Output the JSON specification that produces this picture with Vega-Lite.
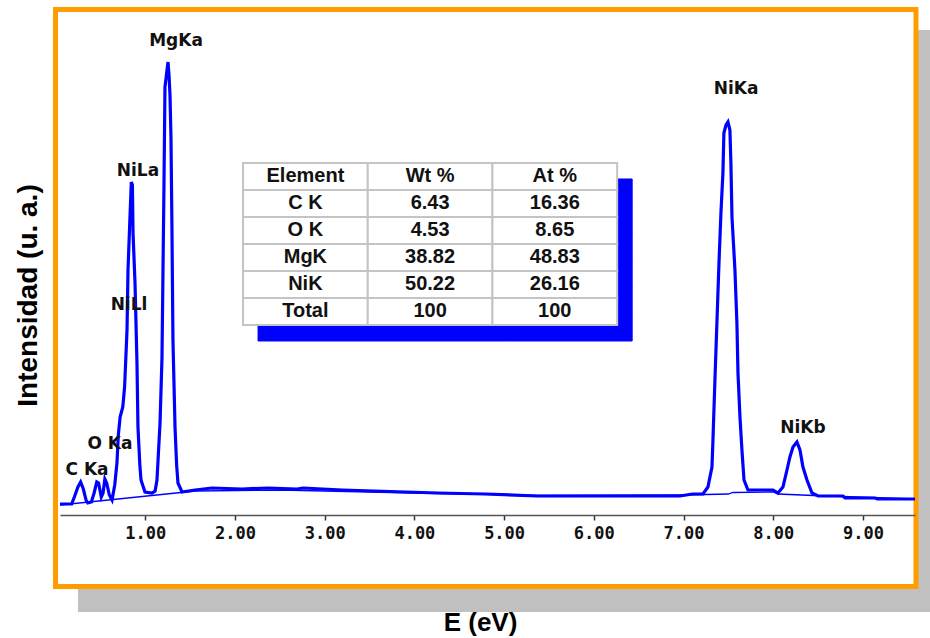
{
  "$schema": "https://vega.github.io/schema/vega-lite/v6.json",
  "width": 855,
  "height": 500,
  "autosize": "none",
  "padding": {"left": 60, "top": 15, "right": 15, "bottom": 123},
  "background": "white",
  "config": {"view": {"stroke": null}},
  "datasets": {
    "spectrum": [
      {"E":0.05,"I":11},{"E":0.18,"I":11},{"E":0.21,"I":18},{"E":0.25,"I":28},{"E":0.28,"I":33},{"E":0.31,"I":26},{"E":0.34,"I":15},{"E":0.36,"I":12},{"E":0.40,"I":13},{"E":0.43,"I":22},{"E":0.46,"I":33},{"E":0.48,"I":32},{"E":0.51,"I":18},{"E":0.53,"I":22},{"E":0.55,"I":36},{"E":0.57,"I":32},{"E":0.60,"I":20},{"E":0.63,"I":15},{"E":0.66,"I":30},{"E":0.685,"I":52},{"E":0.70,"I":80},{"E":0.72,"I":98},{"E":0.75,"I":108},{"E":0.77,"I":128},{"E":0.797,"I":185},{"E":0.808,"I":245},{"E":0.83,"I":298},{"E":0.845,"I":333},{"E":0.857,"I":330},{"E":0.864,"I":282},{"E":0.886,"I":232},{"E":0.908,"I":152},{"E":0.919,"I":88},{"E":0.94,"I":50},{"E":0.953,"I":35},{"E":0.997,"I":23},{"E":1.075,"I":22},{"E":1.11,"I":24},{"E":1.131,"I":35},{"E":1.165,"I":92},{"E":1.187,"I":158},{"E":1.198,"I":245},{"E":1.209,"I":330},{"E":1.22,"I":428},{"E":1.243,"I":445},{"E":1.254,"I":453},{"E":1.265,"I":440},{"E":1.276,"I":420},{"E":1.287,"I":377},{"E":1.298,"I":285},{"E":1.309,"I":175},{"E":1.332,"I":88},{"E":1.35,"I":50},{"E":1.365,"I":32},{"E":1.41,"I":23},{"E":1.555,"I":25},{"E":1.744,"I":27},{"E":2.078,"I":26},{"E":2.37,"I":27},{"E":2.69,"I":26},{"E":2.76,"I":27},{"E":3.2,"I":25},{"E":3.73,"I":23.5},{"E":4.26,"I":22},{"E":4.79,"I":21},{"E":5.37,"I":19},{"E":6.96,"I":19},{"E":7.1,"I":21},{"E":7.217,"I":21},{"E":7.272,"I":28},{"E":7.317,"I":48},{"E":7.328,"I":75},{"E":7.35,"I":135},{"E":7.372,"I":192},{"E":7.395,"I":252},{"E":7.417,"I":302},{"E":7.439,"I":342},{"E":7.45,"I":382},{"E":7.473,"I":390},{"E":7.495,"I":393},{"E":7.517,"I":385},{"E":7.528,"I":352},{"E":7.54,"I":298},{"E":7.573,"I":245},{"E":7.595,"I":192},{"E":7.607,"I":142},{"E":7.629,"I":98},{"E":7.651,"I":65},{"E":7.674,"I":35},{"E":7.718,"I":25},{"E":7.997,"I":25},{"E":8.053,"I":22},{"E":8.108,"I":28},{"E":8.153,"I":45},{"E":8.186,"I":58},{"E":8.22,"I":68},{"E":8.264,"I":73},{"E":8.298,"I":65},{"E":8.331,"I":48},{"E":8.376,"I":35},{"E":8.432,"I":22},{"E":8.5,"I":19},{"E":8.777,"I":19},{"E":8.8,"I":17},{"E":9.134,"I":17},{"E":9.16,"I":16},{"E":9.58,"I":16}
    ],
    "background": [
      {"E":0.05,"I":10},{"E":1.56,"I":24},{"E":2.5,"I":25},{"E":4.0,"I":22},{"E":5.4,"I":19.5},{"E":7.0,"I":20},{"E":7.5,"I":21},{"E":7.55,"I":22.5},{"E":8.0,"I":23},{"E":8.05,"I":21},{"E":8.45,"I":19.5},{"E":9.58,"I":16}
    ],
    "peaks": [
      {"label":"C Ka","E":0.351,"I":45},
      {"label":"O Ka","E":0.607,"I":71},
      {"label":"NiLl","E":0.819,"I":210},
      {"label":"NiLa","E":0.919,"I":344},
      {"label":"MgKa","E":1.343,"I":474},
      {"label":"NiKa","E":7.585,"I":426},
      {"label":"NiKb","E":8.331,"I":87}
    ],
    "table": [
      {"row":"Element","col":"Element","t":"Element"},{"row":"Element","col":"Wt %","t":"Wt %"},{"row":"Element","col":"At %","t":"At %"},
      {"row":"C K","col":"Element","t":"C K"},{"row":"C K","col":"Wt %","t":"6.43"},{"row":"C K","col":"At %","t":"16.36"},
      {"row":"O K","col":"Element","t":"O K"},{"row":"O K","col":"Wt %","t":"4.53"},{"row":"O K","col":"At %","t":"8.65"},
      {"row":"MgK","col":"Element","t":"MgK"},{"row":"MgK","col":"Wt %","t":"38.82"},{"row":"MgK","col":"At %","t":"48.83"},
      {"row":"NiK","col":"Element","t":"NiK"},{"row":"NiK","col":"Wt %","t":"50.22"},{"row":"NiK","col":"At %","t":"26.16"},
      {"row":"Total","col":"Element","t":"Total"},{"row":"Total","col":"Wt %","t":"100"},{"row":"Total","col":"At %","t":"100"}
    ]
  },
  "resolve": {"scale": {"x": "independent", "y": "independent"}},
  "layer": [
    {
      "layer": [
        {
          "data": {"values": [{}]},
          "mark": {"type": "rect", "fill": "#C0C0C0", "clip": false},
          "encoding": {
            "x": {"datum": 0.25, "type": "quantitative", "scale": {"domain": [0.05, 9.58], "nice": false, "zero": false}, "axis": {"values": [1,2,3,4,5,6,7,8,9], "format": ".2f", "title": "E (eV)", "grid": false, "zindex": 1, "labelFont": "DejaVu Sans Mono", "labelFontWeight": "bold", "labelFontSize": 17, "labelColor": "#111111", "labelDx": 13, "labelPadding": 5, "labelOverlap": false, "tickSize": 5, "tickWidth": 1.5, "tickColor": "#333333", "domainColor": "#555555", "domainWidth": 1.5, "titleFont": "Liberation Sans", "titleFontWeight": "bold", "titleFontSize": 26, "titleColor": "#000000", "titleX": 420, "titleY": 107, "titleAlign": "center", "titleBaseline": "middle"}},
            "x2": {"datum": 9.8},
            "y": {"datum": 485, "type": "quantitative", "scale": {"domain": [0, 500], "nice": false, "zero": false}, "axis": {"domain": false, "ticks": false, "labels": false, "grid": false, "zindex": 1, "title": "Intensidad (u. a.)", "titleFont": "Liberation Sans", "titleFontWeight": "bold", "titleFontSize": 28, "titleColor": "#000000", "titleAngle": 270, "titleX": -32, "titleY": 280, "titleAlign": "center", "titleBaseline": "middle"}},
            "y2": {"datum": -97}
          }
        },
        {
          "data": {"values": [{}]},
          "mark": {"type": "rect", "fill": "white", "stroke": "#FF9C00", "strokeWidth": 5, "clip": false},
          "encoding": {
            "x": {"datum": 0.0, "type": "quantitative", "scale": {"domain": [0.05, 9.58], "nice": false, "zero": false}, "axis": {"values": [1,2,3,4,5,6,7,8,9], "format": ".2f", "title": "E (eV)", "grid": false, "zindex": 1, "labelFont": "DejaVu Sans Mono", "labelFontWeight": "bold", "labelFontSize": 17, "labelColor": "#111111", "labelDx": 13, "labelPadding": 5, "labelOverlap": false, "tickSize": 5, "tickWidth": 1.5, "tickColor": "#333333", "domainColor": "#555555", "domainWidth": 1.5, "titleFont": "Liberation Sans", "titleFontWeight": "bold", "titleFontSize": 26, "titleColor": "#000000", "titleX": 420, "titleY": 107, "titleAlign": "center", "titleBaseline": "middle"}},
            "x2": {"datum": 9.591},
            "y": {"datum": 505.5, "type": "quantitative", "scale": {"domain": [0, 500], "nice": false, "zero": false}, "axis": {"domain": false, "ticks": false, "labels": false, "grid": false, "zindex": 1, "title": "Intensidad (u. a.)", "titleFont": "Liberation Sans", "titleFontWeight": "bold", "titleFontSize": 28, "titleColor": "#000000", "titleAngle": 270, "titleX": -32, "titleY": 280, "titleAlign": "center", "titleBaseline": "middle"}},
            "y2": {"datum": -71.5}
          }
        },
        {
          "data": {"name": "background"},
          "mark": {"type": "line", "color": "#0000FF", "strokeWidth": 1.3, "clip": false},
          "encoding": {
            "x": {"field": "E", "type": "quantitative", "scale": {"domain": [0.05, 9.58], "nice": false, "zero": false}, "axis": {"values": [1,2,3,4,5,6,7,8,9], "format": ".2f", "title": "E (eV)", "grid": false, "zindex": 1, "labelFont": "DejaVu Sans Mono", "labelFontWeight": "bold", "labelFontSize": 17, "labelColor": "#111111", "labelDx": 13, "labelPadding": 5, "labelOverlap": false, "tickSize": 5, "tickWidth": 1.5, "tickColor": "#333333", "domainColor": "#555555", "domainWidth": 1.5, "titleFont": "Liberation Sans", "titleFontWeight": "bold", "titleFontSize": 26, "titleColor": "#000000", "titleX": 420, "titleY": 107, "titleAlign": "center", "titleBaseline": "middle"}},
            "y": {"field": "I", "type": "quantitative", "scale": {"domain": [0, 500], "nice": false, "zero": false}, "axis": {"domain": false, "ticks": false, "labels": false, "grid": false, "zindex": 1, "title": "Intensidad (u. a.)", "titleFont": "Liberation Sans", "titleFontWeight": "bold", "titleFontSize": 28, "titleColor": "#000000", "titleAngle": 270, "titleX": -32, "titleY": 280, "titleAlign": "center", "titleBaseline": "middle"}}
          }
        },
        {
          "data": {"name": "spectrum"},
          "mark": {"type": "line", "color": "#0000FF", "strokeWidth": 3.2, "clip": false},
          "encoding": {
            "x": {"field": "E", "type": "quantitative", "scale": {"domain": [0.05, 9.58], "nice": false, "zero": false}, "axis": {"values": [1,2,3,4,5,6,7,8,9], "format": ".2f", "title": "E (eV)", "grid": false, "zindex": 1, "labelFont": "DejaVu Sans Mono", "labelFontWeight": "bold", "labelFontSize": 17, "labelColor": "#111111", "labelDx": 13, "labelPadding": 5, "labelOverlap": false, "tickSize": 5, "tickWidth": 1.5, "tickColor": "#333333", "domainColor": "#555555", "domainWidth": 1.5, "titleFont": "Liberation Sans", "titleFontWeight": "bold", "titleFontSize": 26, "titleColor": "#000000", "titleX": 420, "titleY": 107, "titleAlign": "center", "titleBaseline": "middle"}},
            "y": {"field": "I", "type": "quantitative", "scale": {"domain": [0, 500], "nice": false, "zero": false}, "axis": {"domain": false, "ticks": false, "labels": false, "grid": false, "zindex": 1, "title": "Intensidad (u. a.)", "titleFont": "Liberation Sans", "titleFontWeight": "bold", "titleFontSize": 28, "titleColor": "#000000", "titleAngle": 270, "titleX": -32, "titleY": 280, "titleAlign": "center", "titleBaseline": "middle"}}
          }
        },
        {
          "data": {"name": "peaks"},
          "mark": {"type": "text", "font": "DejaVu Sans", "fontWeight": "bold", "fontSize": 17, "fill": "#111111", "align": "center", "baseline": "middle", "clip": false},
          "encoding": {
            "x": {"field": "E", "type": "quantitative", "scale": {"domain": [0.05, 9.58], "nice": false, "zero": false}, "axis": {"values": [1,2,3,4,5,6,7,8,9], "format": ".2f", "title": "E (eV)", "grid": false, "zindex": 1, "labelFont": "DejaVu Sans Mono", "labelFontWeight": "bold", "labelFontSize": 17, "labelColor": "#111111", "labelDx": 13, "labelPadding": 5, "labelOverlap": false, "tickSize": 5, "tickWidth": 1.5, "tickColor": "#333333", "domainColor": "#555555", "domainWidth": 1.5, "titleFont": "Liberation Sans", "titleFontWeight": "bold", "titleFontSize": 26, "titleColor": "#000000", "titleX": 420, "titleY": 107, "titleAlign": "center", "titleBaseline": "middle"}},
            "y": {"field": "I", "type": "quantitative", "scale": {"domain": [0, 500], "nice": false, "zero": false}, "axis": {"domain": false, "ticks": false, "labels": false, "grid": false, "zindex": 1, "title": "Intensidad (u. a.)", "titleFont": "Liberation Sans", "titleFontWeight": "bold", "titleFontSize": 28, "titleColor": "#000000", "titleAngle": 270, "titleX": -32, "titleY": 280, "titleAlign": "center", "titleBaseline": "middle"}},
            "text": {"field": "label", "type": "nominal"}
          }
        }
      ]
    },
    {
      "data": {"name": "table"},
      "encoding": {
        "x": {"field": "col", "type": "nominal", "sort": null, "scale": {"domain": ["padL", "Element", "Wt %", "At %", "padR"], "paddingInner": 0, "paddingOuter": 0.928, "align": 0.252}, "axis": null},
        "y": {"field": "row", "type": "nominal", "sort": null, "scale": {"domain": ["p1", "p2", "p3", "p4", "p5", "Element", "C K", "O K", "MgK", "NiK", "Total", "q1", "q2", "q3", "q4", "q5", "q6"], "paddingInner": 0, "paddingOuter": 0.76, "align": 0.317}, "axis": null}
      },
      "layer": [
        {"mark": {"type": "rect", "fill": "#0000FF", "stroke": "#0000FF", "strokeWidth": 1, "xOffset": 15, "yOffset": 16}},
        {"mark": {"type": "rect", "fill": "white", "stroke": "#C4C4C4", "strokeWidth": 2}},
        {"mark": {"type": "text", "font": "Liberation Sans", "fontWeight": "bold", "fontSize": 20, "fill": "#111111", "align": "center", "baseline": "middle"}, "encoding": {"text": {"field": "t", "type": "nominal"}}}
      ]
    }
  ]
}
